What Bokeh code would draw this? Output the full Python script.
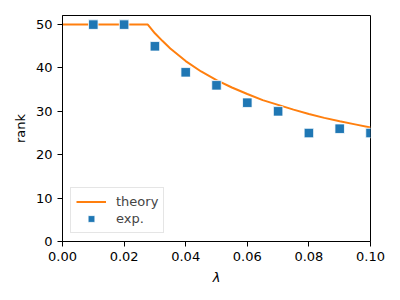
from bokeh.plotting import figure
from bokeh.models import Legend, LegendItem, FixedTicker, NumeralTickFormatter, Range1d
from bokeh.embed import file_html
from bokeh.resources import INLINE

# theory curve
theory_lam = [0.0, 0.0277, 0.03, 0.0325, 0.035, 0.04, 0.045, 0.05, 0.055, 0.06, 0.065,
              0.07, 0.075, 0.08, 0.085, 0.09, 0.095, 0.1]
theory_rank = [50, 50, 48.0, 46.2, 44.5, 41.6, 39.2, 37.2, 35.5, 34.0, 32.6,
               31.5, 30.4, 29.4, 28.5, 27.7, 27.0, 26.3]

# experiment points
exp_lam = [0.01, 0.02, 0.03, 0.04, 0.05, 0.06, 0.07, 0.08, 0.09, 0.10]
exp_rank = [50, 50, 45, 39, 36, 32, 30, 25, 26, 25]

x_ticks = [0.0, 0.02, 0.04, 0.06, 0.08, 0.10]
y_ticks = [0, 10, 20, 30, 40, 50]

FONT = "DejaVu Sans"

p = figure(frame_width=308, frame_height=226,
           output_backend="svg", toolbar_location=None,
           x_range=Range1d(0, 0.1), y_range=Range1d(0, 52.1),
           min_border_left=62, min_border_top=15, min_border_right=22, min_border_bottom=50)
p.background_fill_color = "white"
p.border_fill_color = "white"
p.outline_line_color = "black"
p.outline_line_width = 1
p.xgrid.visible = False
p.ygrid.visible = False

r_line = p.line(theory_lam, theory_rank, line_color="#ff7f0e", line_width=2)
r_pts = p.scatter(exp_lam, exp_rank, marker="square", size=9.5,
                  fill_color="#1f77b4", line_color="white", line_width=0.8)

for ax in (p.xaxis[0], p.yaxis[0]):
    ax.axis_line_color = "black"
    ax.major_tick_line_color = "black"
    ax.major_tick_out = 5
    ax.major_tick_in = 0
    ax.minor_tick_line_color = None
    ax.major_label_text_font = FONT
    ax.major_label_text_font_size = "13px"
    ax.major_label_text_color = "black"
    ax.axis_label_text_font = FONT
    ax.axis_label_text_font_size = "13px"
    ax.axis_label_text_font_style = "normal"
    ax.axis_label_text_color = "black"

p.xaxis.ticker = FixedTicker(ticks=x_ticks)
p.xaxis.formatter = NumeralTickFormatter(format="0.00")
p.yaxis.ticker = FixedTicker(ticks=y_ticks)
p.xaxis.axis_label = "λ"
p.xaxis.axis_label_text_font_style = "italic"
p.xaxis.axis_label_standoff = 6
p.yaxis.axis_label = "rank"
p.yaxis.axis_label_standoff = 5

legend = Legend(items=[LegendItem(label="theory", renderers=[r_line]),
                       LegendItem(label="exp.", renderers=[r_pts])],
                location="bottom_left")
legend.margin = 8
legend.padding = 5
legend.spacing = 0
legend.glyph_width = 30
legend.glyph_height = 17
legend.label_standoff = 10
legend.label_height = 17
legend.label_text_font = FONT
legend.label_text_font_size = "13px"
legend.border_line_color = "#cccccc"
legend.border_line_width = 1
legend.background_fill_alpha = 0.8
p.add_layout(legend)

open("out.html", "w").write(file_html(p, INLINE))
